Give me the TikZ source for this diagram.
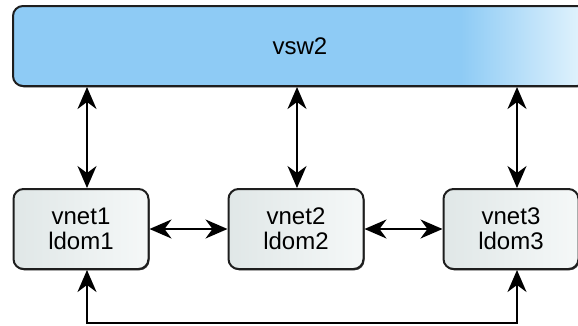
\documentclass[tikz,border=0pt]{standalone}
\usepackage{fontspec}
\setmainfont{Liberation Sans}
\usetikzlibrary{arrows.meta,shadows}

\definecolor{vswblue}{RGB}{142,203,245}
\definecolor{vswlight}{RGB}{236,248,254}
\definecolor{vnetdark}{RGB}{224,231,231}
\definecolor{vnetlight}{RGB}{245,248,248}
\definecolor{edge}{RGB}{30,30,30}

% switch bar: flat blue that fades to white at its right end
\pgfdeclarehorizontalshading{vswshade}{100bp}{%
  color(0bp)=(vswblue); color(64bp)=(vswblue);
  color(76bp)=(vswlight); color(100bp)=(vswlight)}

\tikzset{
  box/.style={draw=edge, line width=2pt, rounded corners=10pt,
    drop shadow={shadow xshift=1pt, shadow yshift=-1.3pt,
      fill=black!75, opacity=1},
    align=center, font=\fontsize{24}{25}\selectfont, text=black},
  switchbox/.style={box, shading=vswshade, minimum width=574pt,
    minimum height=80pt},
  vnetbox/.style={box, left color=vnetdark, right color=vnetlight,
    minimum width=135pt, minimum height=80pt},
  link/.style={line width=1.8pt, draw=black,
    {Stealth[length=22pt,width=19pt,inset=7pt]}-{Stealth[length=22pt,width=19pt,inset=7pt]}}
}

\begin{document}
\begin{tikzpicture}[x=1pt, y=-1pt]
  \useasboundingbox (0,0) rectangle (578,325);
  \clip (0,0) rectangle (578,325);

  \node[switchbox] (vsw) at (300,46) {vsw2};

  \node[vnetbox] (v1) at (81,229)  {vnet1\\ldom1};
  \node[vnetbox] (v2) at (296,229) {vnet2\\ldom2};
  \node[vnetbox] (v3) at (511,229) {vnet3\\ldom3};

  % uplinks to the switch
  \draw[link] ([xshift=6pt]v1.north |- vsw.south) -- ([xshift=6pt]v1.north);
  \draw[link] ([xshift=1pt]v2.north |- vsw.south) -- ([xshift=1pt]v2.north);
  \draw[link] ([xshift=6pt]v3.north |- vsw.south) -- ([xshift=6pt]v3.north);

  % links between neighbouring vnets
  \draw[link] (v1.east) -- (v2.west);
  \draw[link] (v2.east) -- (v3.west);

  % link between the outer vnets
  \draw[link] ([xshift=6pt]v1.south) -- ++(0,53) -| ([xshift=6pt]v3.south);
\end{tikzpicture}
\end{document}
